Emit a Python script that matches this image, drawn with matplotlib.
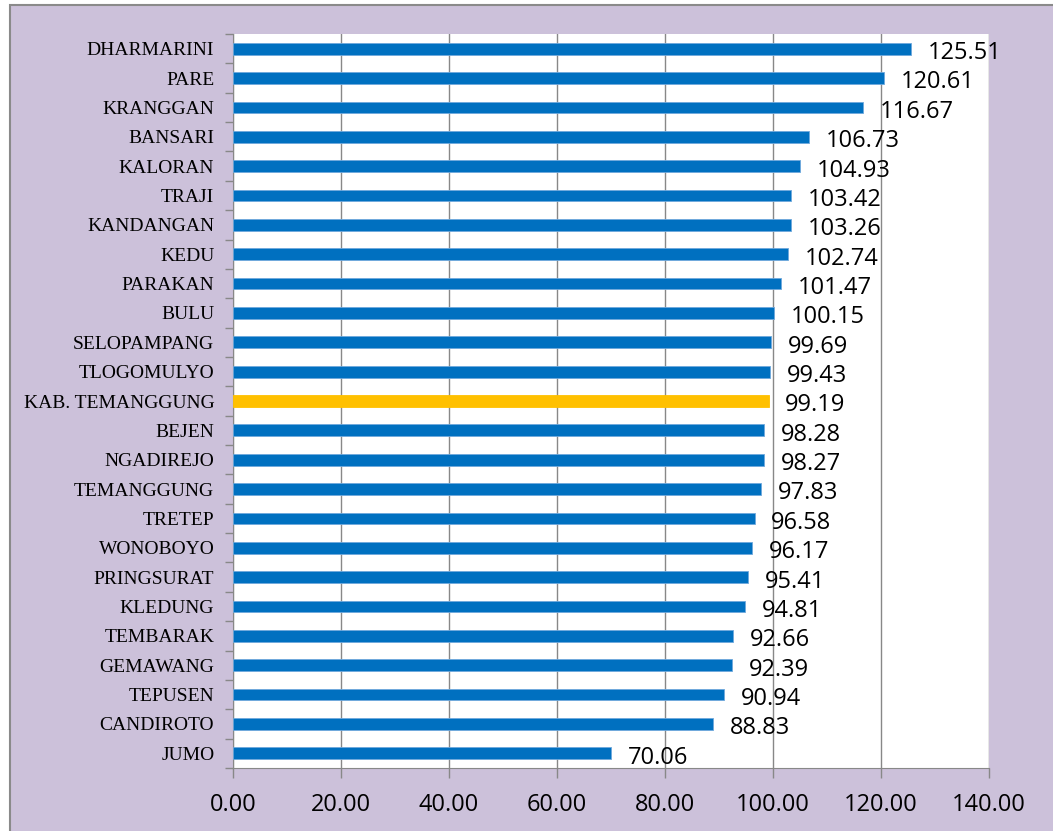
import numpy as np
import matplotlib.pyplot as plt

# data, top to bottom as in the chart
names = ['DHARMARINI', 'PARE', 'KRANGGAN', 'BANSARI', 'KALORAN', 'TRAJI',
         'KANDANGAN', 'KEDU', 'PARAKAN', 'BULU', 'SELOPAMPANG', 'TLOGOMULYO',
         'KAB. TEMANGGUNG', 'BEJEN', 'NGADIREJO', 'TEMANGGUNG', 'TRETEP',
         'WONOBOYO', 'PRINGSURAT', 'KLEDUNG', 'TEMBARAK', 'GEMAWANG',
         'TEPUSEN', 'CANDIROTO', 'JUMO']
values = [125.51, 120.61, 116.67, 106.73, 104.93, 103.42, 103.26, 102.74,
          101.47, 100.15, 99.69, 99.43, 99.19, 98.28, 98.27, 97.83, 96.58,
          96.17, 95.41, 94.81, 92.66, 92.39, 90.94, 88.83, 70.06]
highlight = 'KAB. TEMANGGUNG'
xticks = [0, 20, 40, 60, 80, 100, 120, 140]

bg = '#CCC1DA'
W, H = 1053, 831
fig = plt.figure(figsize=(W/100, H/100), dpi=100, facecolor='white')

# lavender frame with grey left/top border
fig.add_artist(plt.Rectangle((10/W, -0.05), 1.1, 1 - 5/H + 0.05,
                             transform=fig.transFigure, facecolor=bg,
                             edgecolor='#8A8A8A', linewidth=1.5, zorder=0))

ax = fig.add_axes([233/W, 1-768/H, (989-233)/W, (768-34)/H])
ax.set_facecolor('white')

n = len(names)
y = np.arange(n)[::-1]
colors = ['#FFC000' if nm == highlight else '#0070C0' for nm in names]
edges = ['#FFC000' if nm == highlight else '#6FA8DC' for nm in names]
ax.barh(y, values, height=0.4, color=colors, edgecolor=edges, linewidth=0.6, zorder=3)

for yi, v in zip(y, values):
    ax.text(v + 3.1, yi - 0.15, f'{v:.2f}', va='center', ha='left',
            fontsize=17, family='Open Sans', zorder=4)

ax.set_xlim(0, 140)
ax.set_ylim(-0.5, n - 0.5)
ax.set_xticks(xticks)
ax.set_xticklabels([f'{t:.2f}' for t in xticks], fontsize=17, family='Open Sans')
ax.set_yticks(y)
ax.set_yticklabels(names, fontsize=14, family='Liberation Serif')
ax.set_yticks(np.arange(n + 1) - 0.5, minor=True)
ax.tick_params(axis='y', which='major', length=0, pad=13.5)
ax.tick_params(axis='y', which='minor', length=6, color='#888888', width=1)
ax.tick_params(axis='x', length=7, color='#888888', width=1, pad=11)
ax.grid(axis='x', color='#888888', linewidth=1, zorder=0)

for side in ['top', 'right']:
    ax.spines[side].set_visible(False)
ax.spines['left'].set_color('#888888')
ax.spines['bottom'].set_color('#888888')

fig.savefig('out.png', dpi=100, facecolor='white')
